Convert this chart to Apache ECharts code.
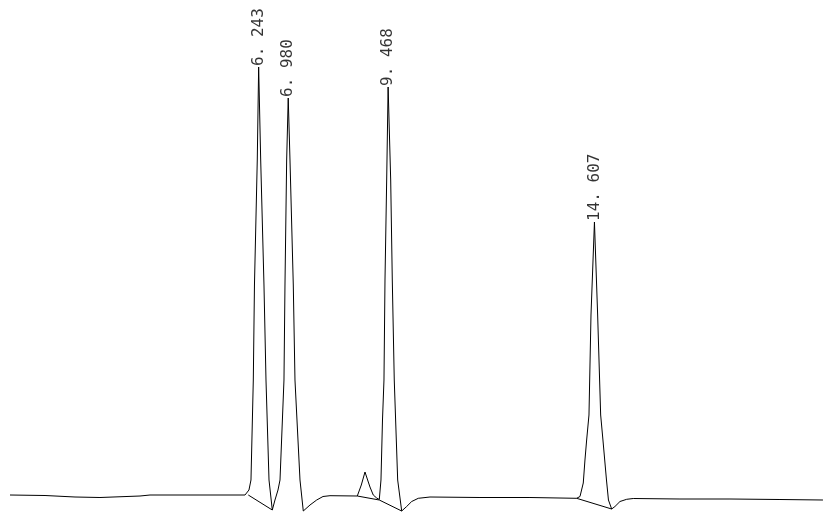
<!DOCTYPE html>
<html>
<head>
<meta charset="utf-8">
<script src="https://cdn.jsdelivr.net/npm/echarts@6/dist/echarts.min.js"></script>
<style>
html,body{margin:0;padding:0;background:#fff;}
#chart{width:823px;height:513px;}
</style>
</head>
<body>
<div id="chart"></div>
<script>
// Chromatogram trace: [time (min), signal]
var traceTime = [0.050,0.922,1.669,2.291,3.288,3.537,4.782,5.903,5.945,6.002,6.052,6.110,6.139,6.209,6.243,6.294,6.376,6.426,6.501,6.583,6.650,6.725,6.775,6.874,6.899,6.941,6.980,7.024,7.106,7.148,7.273,7.355,7.397,7.522,7.689,7.846,8.020,8.700,8.800,8.892,8.966,9.016,9.098,9.183,9.248,9.290,9.328,9.365,9.390,9.432,9.468,9.532,9.572,9.621,9.706,9.806,9.930,10.055,10.219,10.511,11.756,13.001,14.164,14.247,14.329,14.371,14.413,14.471,14.521,14.607,14.687,14.762,14.819,14.907,14.956,15.036,15.118,15.243,15.410,15.574,16.737,17.983,19.228,20.299];
var traceSignal = [0,-0.5,-2,-2.5,-1,0,0,0,0,5,15,115,210,335,428,335,210,115,15,-15,-5,5,15,115,210,335,397,335,210,115,15,-16,-17,-10,-5,-1.5,-0.7,-1,10,23,14,8,0,-3,-4.5,15,75,115,215,315,408,315,215,115,15,-16,-11.5,-6.5,-3.3,-2,-2.5,-2.5,-3.3,-1.5,12,35,55,80,180,273,180,80,55,15,-5,-14,-11.5,-6.5,-4.3,-3.5,-4,-4,-4.5,-5];

// Integration baselines
var base1Time = [5.985, 6.583];
var base1Signal = [0, -15];
var base2Time = [8.700, 9.248, 9.806];
var base2Signal = [-1, -5, -16];
var base3Time = [14.164, 15.036];
var base3Signal = [-3.3, -14];

// Peak annotations
var peakTime = [6.243, 6.980, 9.468, 14.607];
var peakSignal = [428, 397, 408, 273];
var peakLabels = ['6. 243', '6. 980', '9. 468', '14. 607'];

function zip(a, b) { return a.map(function (v, i) { return [v, b[i]]; }); }

var lineStyle = { color: '#000', width: 1 };
var chart = echarts.init(document.getElementById('chart'));
chart.setOption({
  animation: false,
  backgroundColor: '#fff',
  grid: { left: 8, right: 0, top: 0, bottom: 0 },
  xAxis: { type: 'value', min: 0, max: 20.3, show: false },
  yAxis: { type: 'value', min: -18, max: 495, show: false },
  series: [
    { type: 'line', data: zip(traceTime, traceSignal), symbol: 'none', lineStyle: lineStyle },
    { type: 'line', data: zip(base1Time, base1Signal), symbol: 'none', lineStyle: lineStyle },
    { type: 'line', data: zip(base2Time, base2Signal), symbol: 'none', lineStyle: lineStyle },
    { type: 'line', data: zip(base3Time, base3Signal), symbol: 'none', lineStyle: lineStyle },
    {
      type: 'scatter',
      data: peakTime.map(function (t, i) { return { value: [t, peakSignal[i]], name: peakLabels[i] }; }),
      symbolSize: 0,
      label: {
        show: true,
        position: 'top',
        distance: 1,
        rotate: 90,
        align: 'left',
        verticalAlign: 'middle',
        formatter: function (p) { return p.name; },
        fontFamily: 'DejaVu Sans Mono',
        fontSize: 16,
        color: '#000'
      }
    }
  ]
});
</script>
</body>
</html>
